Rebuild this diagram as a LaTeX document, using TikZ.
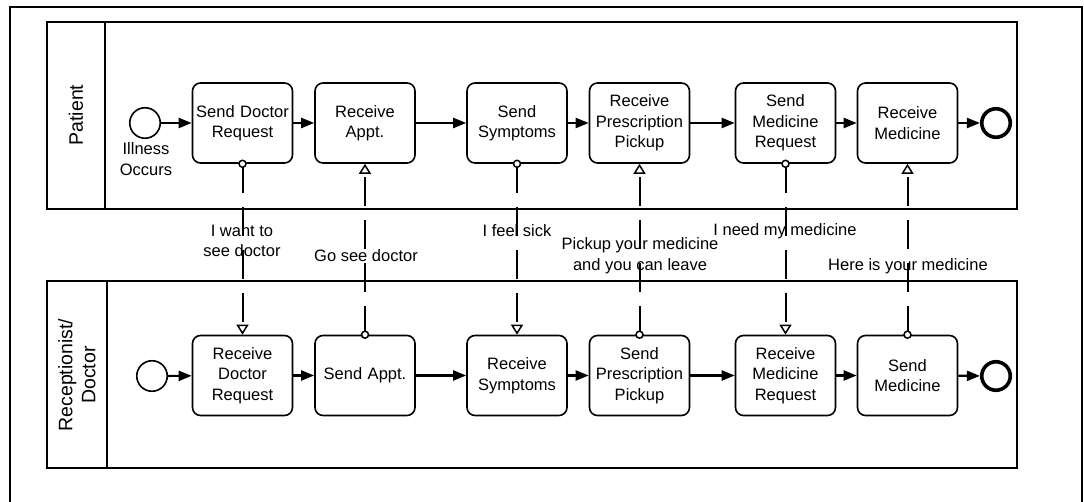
\documentclass[tikz,border=0pt]{standalone}
\usepackage{fontspec}
\setmainfont{Liberation Sans}
\usetikzlibrary{arrows.meta}
\begin{document}
\begin{tikzpicture}[x=1pt,y=-1pt,
  every node/.style={font=\fontsize{16.5}{20.5}\selectfont},
  task/.style={draw, rounded corners=8pt, line width=1.6pt, minimum width=100pt,
    minimum height=80pt, align=center, inner sep=0pt, text width=98pt},
  startev/.style={draw, circle, line width=1.6pt, minimum size=30.5pt, inner sep=0pt},
  endev/.style={draw, circle, line width=3.6pt, minimum size=28.5pt, inner sep=0pt},
  seq/.style={line width=2.2pt, -{Triangle[length=13pt,width=10pt]}},
  msg/.style={line width=2pt, dash pattern=on 29pt off 14pt,
    -{Triangle[open,length=10pt,width=12pt,line width=1.5pt]}},
  msgdot/.style={draw, fill=white, line width=1.5pt},
  lbl/.style={align=center, inner sep=0pt},
  lanelbl/.style={rotate=90, align=center, inner sep=0pt,
    font=\fontsize{19.5}{23}\selectfont},
  pool/.style={draw, line width=2.4pt},
]
\useasboundingbox (0,0) rectangle (1084,502);

% outer frame (open at the bottom)
\draw[line width=2.4pt] (10,502) -- (10,7) -- (1082,7) -- (1082,502);

% pools
\draw[pool] (47,22) rectangle (1017,209);
\draw[pool] (105,22) -- (105,209);
\draw[pool] (47,281) rectangle (1017,468);
\draw[pool] (107,281) -- (107,468);
\node[lanelbl] (lanep) at (76,115) {Patient};
\node[lanelbl] (laned) at (77,375) {Receptionist/\\Doctor};

% patient lane
\node[startev] (ps) at (145,123) {};
\node[lbl] (psl) at (146,159) {Illness\\Occurs};
\node[task] (p1) at (242.5,123) {Send Doctor\\Request};
\node[task] (p2) at (365,123) {Receive\\Appt.};
\node[task] (p3) at (517,123) {Send\\Symptoms};
\node[task] (p4) at (639.5,123) {Receive\\Prescription\\Pickup};
\node[task] (p5) at (785.5,123) {Send\\Medicine\\Request};
\node[task] (p6) at (907.5,123) {Receive\\Medicine};
\node[endev] (pe) at (996,123) {};

% receptionist / doctor lane
\node[startev] (ds) at (152,376) {};
\node[task] (d1) at (242.5,375.5) {Receive\\Doctor\\Request};
\node[task] (d2) at (365,375.5) {Send Appt.};
\node[task] (d3) at (517,375.5) {Receive\\Symptoms};
\node[task] (d4) at (639.5,375.5) {Send\\Prescription\\Pickup};
\node[task] (d5) at (785.5,375.5) {Receive\\Medicine\\Request};
\node[task] (d6) at (907.5,375.5) {Send\\Medicine};
\node[endev] (de) at (996,376) {};

% sequence flows
\draw[seq] (ps) -- (p1);
\draw[seq] (p1) -- (p2);
\draw[seq] (p2) -- (p3);
\draw[seq] (p3) -- (p4);
\draw[seq] (p4) -- (p5);
\draw[seq] (p5) -- (p6);
\draw[seq] (p6) -- (pe);
\draw[seq] (ds) -- (d1);
\draw[seq] (d1) -- (d2);
\draw[seq] (d2) -- (d3);
\draw[seq] (d3) -- (d4);
\draw[seq] (d4) -- (d5);
\draw[seq] (d5) -- (d6);
\draw[seq] (d6) -- (de);

% message flows, with the small open circle on the sending task
\draw[msg] (p1.south) -- (d1.north);
\draw[msg] (d2.north) -- (p2.south);
\draw[msg] (p3.south) -- (d3.north);
\draw[msg] (d4.north) -- (p4.south);
\draw[msg] (p5.south) -- (d5.north);
\draw[msg] (d6.north) -- (p6.south);
\foreach \n in {p1,p3,p5}
  \draw[msgdot] (\n.south) circle (3.5pt);
\foreach \n in {d2,d4,d6}
  \draw[msgdot] (\n.north) circle (3.5pt);

% message labels
\node[lbl] (m1) at (242,241) {I want to\\see doctor};
\node[lbl] (m2) at (366,256) {Go see doctor};
\node[lbl] (m3) at (517,231) {I feel sick};
\node[lbl] (m4) at (640,255.5) {Pickup your medicine\\and you can leave};
\node[lbl] (m5) at (785,231) {I need my medicine};
\node[lbl] (m6) at (908,266) {Here is your medicine};
\end{tikzpicture}
\end{document}
